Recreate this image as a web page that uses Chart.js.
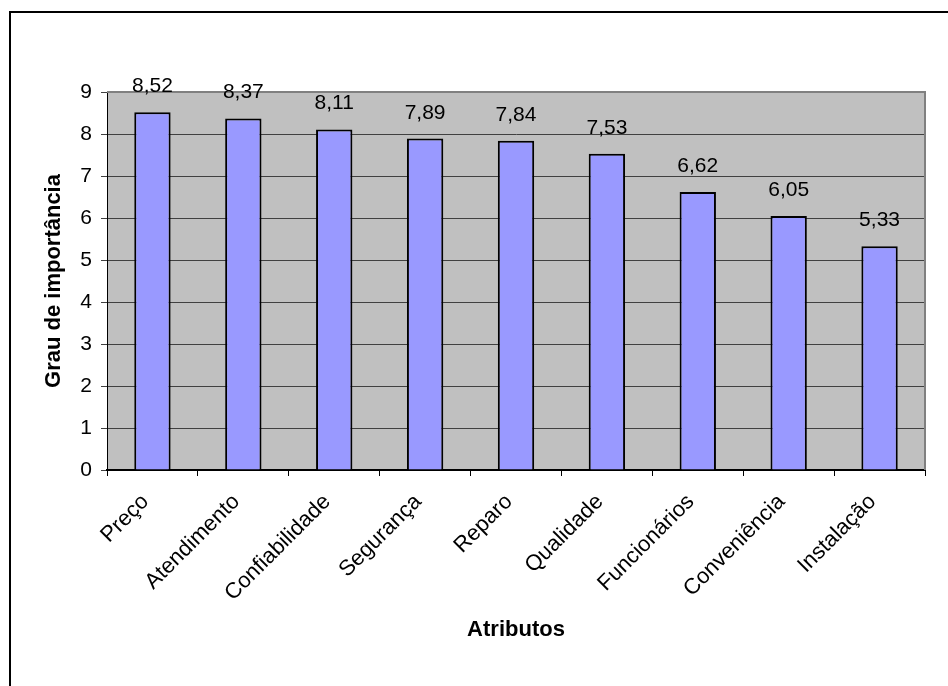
<!DOCTYPE html>
<html>
<head>
<meta charset="utf-8">
<script src="https://cdn.jsdelivr.net/npm/chart.js@4.4.1/dist/chart.umd.min.js"></script>
<style>
  html, body { margin: 0; padding: 0; background: #fff; }
  #wrap { width: 948px; height: 686px; position: relative; }
</style>
</head>
<body>
<div id="wrap"><canvas id="chart" width="948" height="686"></canvas></div>
<script>
// data
const categories = ["Preço", "Atendimento", "Confiabilidade", "Segurança", "Reparo", "Qualidade", "Funcionários", "Conveniência", "Instalação"];
const importance = [8.52, 8.37, 8.11, 7.89, 7.84, 7.53, 6.62, 6.05, 5.33];
const yTicks = [0, 1, 2, 3, 4, 5, 6, 7, 8, 9];

const FONT = "'Liberation Sans', Arial, sans-serif";

// gray plot background + outer frame (top and left lines only)
const frame = {
    id: "frame",
    beforeDraw(chart) {
        const { ctx, chartArea: a } = chart;
        ctx.save();
        ctx.fillStyle = "#C0C0C0";
        ctx.fillRect(a.left, a.top, a.right - a.left, a.bottom - a.top);
        ctx.strokeStyle = "#000";
        ctx.lineWidth = 2;
        ctx.beginPath();
        ctx.moveTo(948, 12);
        ctx.lineTo(10, 12);
        ctx.lineTo(10, 686);
        ctx.stroke();
        ctx.restore();
    },
    afterDatasetsDraw(chart) {
        const { ctx, chartArea: a } = chart;
        ctx.save();
        ctx.strokeStyle = "#808080";
        ctx.lineWidth = 2;
        ctx.beginPath();
        ctx.moveTo(a.left, a.top);
        ctx.lineTo(a.right, a.top);
        ctx.lineTo(a.right, a.bottom);
        ctx.stroke();
        // value labels
        const meta = chart.getDatasetMeta(0);
        ctx.fillStyle = "#000";
        ctx.font = "21px " + FONT;
        ctx.textAlign = "center";
        ctx.textBaseline = "alphabetic";
        meta.data.forEach((bar, i) => {
            ctx.fillText(importance[i].toFixed(2).replace(".", ","), bar.x, bar.y - 20);
        });
        ctx.restore();
    }
};

new Chart(document.getElementById("chart"), {
    type: "bar",
    data: {
        labels: categories,
        datasets: [{
            data: importance,
            backgroundColor: "#9999FF",
            borderColor: "#000",
            borderWidth: 2,
            categoryPercentage: 1,
            barPercentage: 0.4
        }]
    },
    options: {
        responsive: false,
        animation: false,
        layout: { padding: { top: 92, right: 23, left: 0, bottom: 0 } },
        plugins: {
            legend: { display: false },
            tooltip: { enabled: false }
        },
        scales: {
            x: {
                offset: true,
                grid: {
                    offset: true,
                    drawOnChartArea: false,
                    color: "#000",
                    tickLength: 6
                },
                border: { color: "#000", width: 2 },
                ticks: {
                    color: "#000",
                    font: { family: FONT, size: 22 },
                    minRotation: 45,
                    maxRotation: 45,
                    padding: 13,
                    labelOffset: -7
                },
                title: {
                    display: true,
                    text: "Atributos",
                    color: "#000",
                    font: { family: FONT, size: 22, weight: "bold" },
                    padding: { top: 0, bottom: 43 }
                },
                afterFit(scale) { scale.height = 216; }
            },
            y: {
                min: 0,
                max: 9,
                afterBuildTicks(scale) { scale.ticks = yTicks.map(v => ({ value: v })); },
                grid: {
                    color: "#404040",
                    lineWidth: 1,
                    tickLength: 6
                },
                border: { color: "#000", width: 1 },
                ticks: {
                    color: "#000",
                    font: { family: FONT, size: 21 },
                    padding: 9
                },
                title: {
                    display: true,
                    text: "Grau de importância",
                    color: "#000",
                    font: { family: FONT, size: 22, weight: "bold" },
                    padding: { top: 41, bottom: 0 }
                },
                afterFit(scale) { scale.width = 107; }
            }
        }
    },
    plugins: [frame]
});
</script>
</body>
</html>
